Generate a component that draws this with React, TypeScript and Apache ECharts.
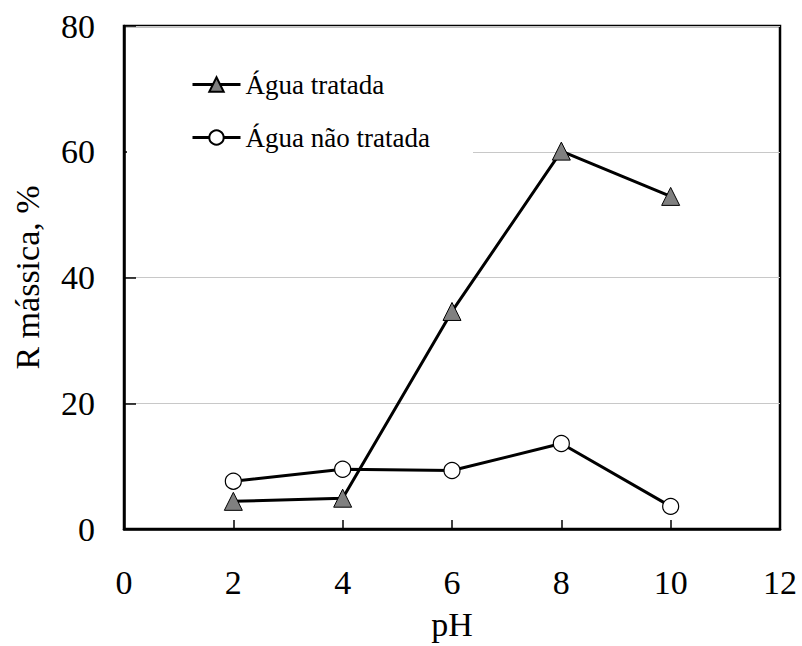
import React, { useEffect, useRef } from "react";
import * as echarts from "echarts";

const phValues = [2, 4, 6, 8, 10];
const aguaTratada = [4.4, 4.9, 34.6, 60.1, 52.9];
const aguaNaoTratada = [7.6, 9.5, 9.3, 13.6, 3.6];
const seriesNames = ["Água tratada", "Água não tratada"];

const FONT = "'Liberation Serif', 'Times New Roman', serif";

export default function App() {
  const ref = useRef<HTMLDivElement>(null);
  useEffect(() => {
    document.body.style.margin = "0";
    if (!ref.current) return;
    const chart = echarts.init(ref.current, undefined, { renderer: "svg" });
    chart.setOption({
      animation: false,
      backgroundColor: "#ffffff",
      grid: {
        left: 124,
        right: 22,
        top: 26,
        bottom: 113,
        show: true,
        borderColor: "#000",
        borderWidth: 2.5,
        backgroundColor: "transparent",
      },
      legend: {
        orient: "vertical",
        left: 186,
        top: 66,
        itemWidth: 48,
        itemHeight: 18,
        itemGap: 26,
        lineStyle: { width: 3 },
        textStyle: { fontFamily: FONT, fontSize: 27, color: "#000" },
        data: seriesNames,
      },
      graphic: [
        {
          type: "rect",
          z: 1,
          shape: { x: 127, y: 146, width: 346, height: 14 },
          style: { fill: "#ffffff" },
        },
      ],
      xAxis: {
        type: "value",
        min: 0,
        max: 12,
        interval: 2,
        name: "pH",
        nameLocation: "middle",
        nameGap: 78,
        nameTextStyle: { fontFamily: FONT, fontSize: 34, color: "#000" },
        axisLine: { show: true, lineStyle: { color: "#000", width: 2.5 } },
        axisTick: { show: true, inside: true, length: 9, lineStyle: { color: "#000", width: 1.5 } },
        axisLabel: { fontFamily: FONT, fontSize: 34, color: "#000", margin: 36 },
        splitLine: { show: false },
      },
      yAxis: {
        type: "value",
        min: 0,
        max: 80,
        interval: 20,
        name: "R mássica, %",
        nameLocation: "middle",
        nameGap: 80,
        nameTextStyle: { fontFamily: FONT, fontSize: 34, color: "#000" },
        axisLine: { show: true, lineStyle: { color: "#000", width: 2.5 } },
        axisTick: { show: true, inside: true, length: 12, lineStyle: { color: "#000", width: 1.5 } },
        axisLabel: { fontFamily: FONT, fontSize: 34, color: "#000", margin: 29 },
        splitLine: { show: true, lineStyle: { color: "#c8c8c8", width: 1 } },
      },
      series: [
        {
          name: seriesNames[0],
          type: "line",
          data: phValues.map((x, i) => [x, aguaTratada[i]]),
          symbol: "triangle",
          symbolSize: 18,
          z: 3,
          lineStyle: { color: "#000", width: 3 },
          itemStyle: { color: "#808080", borderColor: "#000", borderWidth: 1 },
        },
        {
          name: seriesNames[1],
          type: "line",
          data: phValues.map((x, i) => [x, aguaNaoTratada[i]]),
          symbol: "circle",
          symbolSize: 16,
          z: 3,
          lineStyle: { color: "#000", width: 3 },
          itemStyle: { color: "#ffffff", borderColor: "#000", borderWidth: 1.2 },
        },
      ],
    });
    return () => chart.dispose();
  }, []);
  return <div ref={ref} style={{ width: 802, height: 646 }} />;
}
